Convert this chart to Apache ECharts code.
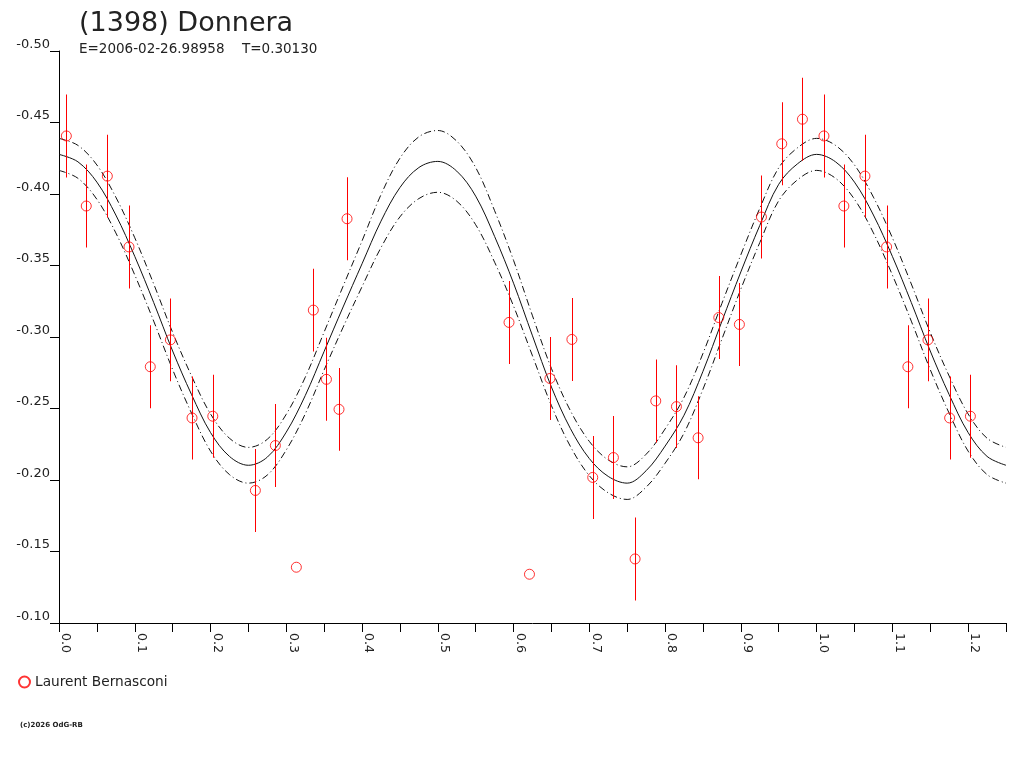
<!DOCTYPE html>
<html>
<head>
<meta charset="utf-8">
<script src="https://cdn.jsdelivr.net/npm/echarts@6/dist/echarts.min.js"></script>
<style>
html,body{margin:0;padding:0;background:#fff;}
#chart{width:1024px;height:768px;}
</style>
</head>
<body>
<div id="chart"></div>
<script>
// ---- data ----
const titleText = "(1398) Donnera";
const epochText = "E=2006-02-26.98958";
const periodText = "T=0.30130";
const observer = "Laurent Bernasconi";
const copyrightText = "(c)2026 OdG-RB";

// observed points (phase 0..1), magnitudes and errors
const obsPhase = [0.0097,0.0360,0.0638,0.0924,0.1205,0.1470,0.1756,0.2030,0.2592,0.2856,
                  0.3133,0.3357,0.3530,0.3696,0.3802,0.5940,0.6210,0.6480,0.6770,0.7045,
                  0.7318,0.7604,0.7877,0.8150,0.8436,0.8709,0.8981,0.9272,0.9540,0.9813];
const obsMag   = [-0.4406,-0.3916,-0.4125,-0.3630,-0.2792,-0.2980,-0.2434,-0.2446,-0.1927,-0.2241,
                  -0.1390,-0.3188,-0.2704,-0.2494,-0.3827,-0.3102,-0.1341,-0.2710,-0.2983,-0.2018,
                  -0.2157,-0.1448,-0.2553,-0.2513,-0.2295,-0.3136,-0.3088,-0.3839,-0.4351,-0.4523];
const obsErr   = [0.029,0.029,0.029,0.029,0.029,0.029,0.029,0.029,0.029,0.029,
                  0,0.029,0.029,0.029,0.029,0.029,0,0.029,0.029,0.029,
                  0.029,0.029,0.029,0.029,0.029,0.029,0.029,0.029,0.029,0.029];

// fitted curve read at phase samples (one full period)
const curvePhase = [0,0.025,0.05,0.075,0.1,0.125,0.15,0.175,0.2,0.225,
                    0.25,0.275,0.3,0.325,0.35,0.375,0.4,0.425,0.45,0.475,
                    0.5,0.525,0.55,0.575,0.6,0.625,0.65,0.675,0.7,0.725,
                    0.75,0.775,0.8,0.825,0.85,0.875,0.9,0.925,0.95,0.975,1.0];
const fitMag   = [-0.4277,-0.4225,-0.4083,-0.3853,-0.3564,-0.3241,-0.2902,-0.2597,-0.2332,-0.2165,
                  -0.2103,-0.2160,-0.2335,-0.2590,-0.2900,-0.3210,-0.3512,-0.3810,-0.4045,-0.4185,
                  -0.4228,-0.4160,-0.3985,-0.3703,-0.3376,-0.3008,-0.2650,-0.2360,-0.2150,-0.2025,
                  -0.1978,-0.2065,-0.2237,-0.2453,-0.2760,-0.3110,-0.3455,-0.3780,-0.4068,-0.4212,-0.4277];
const fitUpper = [-0.4389,-0.4340,-0.4203,-0.3978,-0.3694,-0.3371,-0.3032,-0.2727,-0.2462,-0.2292,
                  -0.2228,-0.2285,-0.2460,-0.2718,-0.3035,-0.3355,-0.3672,-0.3995,-0.4250,-0.4400,
                  -0.4444,-0.4370,-0.4185,-0.3883,-0.3536,-0.3148,-0.2780,-0.2485,-0.2270,-0.2140,
                  -0.2092,-0.2180,-0.2357,-0.2578,-0.2885,-0.3235,-0.3575,-0.3900,-0.4183,-0.4324,-0.4389];
const fitLower = [-0.4165,-0.4110,-0.3963,-0.3728,-0.3434,-0.3111,-0.2772,-0.2467,-0.2202,-0.2038,
                  -0.1978,-0.2035,-0.2210,-0.2462,-0.2770,-0.3068,-0.3352,-0.3625,-0.3840,-0.3968,
                  -0.4012,-0.3950,-0.3785,-0.3523,-0.3216,-0.2868,-0.2520,-0.2235,-0.2030,-0.1910,
                  -0.1864,-0.1950,-0.2117,-0.2328,-0.2635,-0.2985,-0.3335,-0.3660,-0.3953,-0.4100,-0.4165];

const phaseMax = 1.25;

// ---- build (one period + repeat up to phaseMax) ----
function fold(ph, vals, extra) {
  const out = [];
  ph.forEach((p, i) => out.push([p, vals[i]].concat(extra ? [extra[i]] : [])));
  ph.forEach((p, i) => { if (p + 1 <= phaseMax + 1e-9 && p > 0) out.push([p + 1, vals[i]].concat(extra ? [extra[i]] : [])); });
  out.sort((a, b) => a[0] - b[0]);
  return out;
}
const ptsData = fold(obsPhase, obsMag, obsErr);
const errData = ptsData.filter(d => d[2] > 0);
const solidData = fold(curvePhase, fitMag);
const upperData = fold(curvePhase, fitUpper);
const lowerData = fold(curvePhase, fitLower);

const RED = '#ff0000';
const FONT = 'DejaVu Sans';

const chart = echarts.init(document.getElementById('chart'), null, {renderer: 'canvas'});
chart.setOption({
  animation: false,
  backgroundColor: '#ffffff',
  title: {
    text: titleText, left: 79, top: 10, padding: 0,
    textStyle: {fontFamily: FONT, fontSize: 27, fontWeight: 'normal', color: '#222'}
  },
  graphic: [
    {type: 'text', left: 79, top: 42, style: {text: epochText, font: '13.5px "DejaVu Sans"', fill: '#222'}},
    {type: 'text', left: 242, top: 42, style: {text: periodText, font: '13.5px "DejaVu Sans"', fill: '#222'}},
    {type: 'text', left: 20, top: 722, style: {text: copyrightText, font: 'bold 7px "DejaVu Sans"', fill: '#222'}}
  ],
  legend: {
    data: [observer], left: 18, top: 675, padding: 0,
    itemWidth: 11, itemHeight: 11, itemGap: 5,
    textStyle: {fontFamily: FONT, fontSize: 13.7, color: '#222'}
  },
  grid: {left: 59, right: 18, top: 51, bottom: 145, containLabel: false},
  xAxis: {
    type: 'value', min: 0, max: phaseMax, interval: 0.05,
    axisLine: {lineStyle: {color: '#000', width: 1}},
    axisTick: {show: true, length: 9, lineStyle: {color: '#000'}},
    splitLine: {show: false},
    axisLabel: {
      rotate: -90, margin: 10, verticalAlign: 'bottom',
      fontFamily: FONT, fontSize: 12.5, color: '#222',
      formatter: v => (Math.round(v * 100) % 10 === 0 ? v.toFixed(1) : '')
    }
  },
  yAxis: {
    type: 'value', min: -0.5, max: -0.1, interval: 0.05, inverse: true,
    axisLine: {show: true, lineStyle: {color: '#000', width: 1}},
    axisTick: {show: true, length: 9, lineStyle: {color: '#000'}},
    splitLine: {show: false},
    axisLabel: {
      margin: 9, verticalAlign: 'bottom',
      fontFamily: FONT, fontSize: 13, color: '#222',
      formatter: v => v.toFixed(2)
    }
  },
  series: [
    {type: 'line', name: 'fit', data: solidData, smooth: 0.35, showSymbol: false,
     lineStyle: {color: '#111', width: 1}, z: 2},
    {type: 'line', name: 'upper', data: upperData, smooth: 0.35, showSymbol: false,
     lineStyle: {color: '#111', width: 1, type: [7, 3, 1, 3]}, z: 2},
    {type: 'line', name: 'lower', data: lowerData, smooth: 0.35, showSymbol: false,
     lineStyle: {color: '#111', width: 1, type: [7, 3, 1, 3]}, z: 2},
    {type: 'custom', name: 'err', data: errData, z: 10,
     renderItem: function (params, api) {
       const x = api.value(0), y = api.value(1), e = api.value(2);
       const a = api.coord([x, y - e]);
       const b = api.coord([x, y + e]);
       return {type: 'rect', z2: 10,
               shape: {x: Math.round(a[0]), y: a[1], width: 1, height: b[1] - a[1]},
               style: {fill: RED, stroke: null}};
     }},
    {type: 'scatter', name: observer, data: ptsData, symbol: 'circle', symbolSize: 10, z: 11,
     itemStyle: {color: 'rgba(255,255,255,0)', borderColor: RED, borderWidth: 1}}
  ]
});
</script>
</body>
</html>
